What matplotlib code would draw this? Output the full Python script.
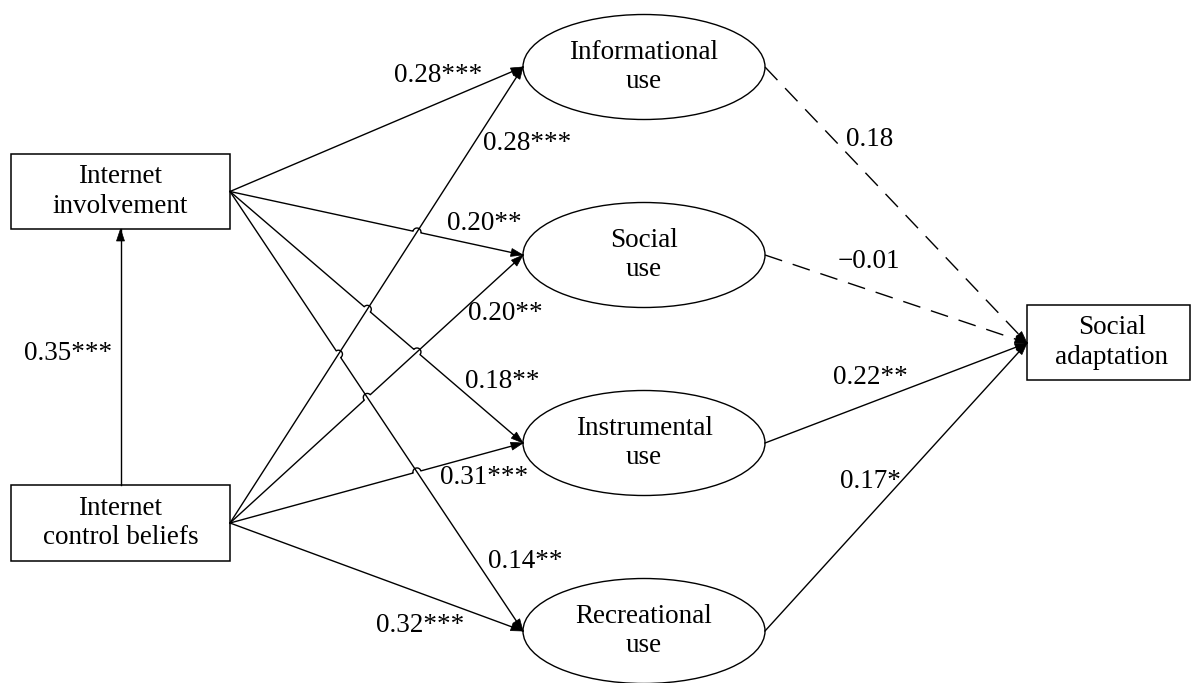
import numpy as np
import matplotlib.pyplot as plt
from matplotlib.patches import Ellipse, Rectangle, Polygon

plt.rcParams['font.family'] = ['Liberation Serif', 'DejaVu Serif']

# 데이터
sources = ['Internet\ninvolvement', 'Internet\ncontrol beliefs']
mediators = ['Informational\nuse', 'Social\nuse', 'Instrumental\nuse', 'Recreational\nuse']
outcome = 'Social\nadaptation'
inv_coefs = ['0.28***', '0.20**', '0.18**', '0.14**']
ctl_coefs = ['0.28***', '0.20**', '0.31***', '0.32***']
out_coefs = ['0.18', '\u22120.01', '0.22**', '0.17*']
out_sig = [False, False, True, True]   # 유의하지 않으면 점선
ctl_to_inv = '0.35***'

# 배치 (픽셀 좌표)
W, H = 1192, 683
box_l, box_r = 11, 230
src_boxes = [(154, 229), (485, 561)]
ell_cx, ell_w, ell_h = 644, 242, 105
ell_cy = [67, 255, 443, 631]
out_box = (1027, 305, 1190, 380)
inv_lab_pos = [(438, 75), (484, 223), (502, 382), (525, 561)]
ctl_lab_pos = [(527, 143), (505, 313), (484, 478), (420, 625)]
out_lab_pos = [(870, 140), (869, 261), (870, 377), (870, 482)]
fs = 19.5
lw = 1.0
lsp = 1.25

fig = plt.figure(figsize=(W / 100, H / 100), dpi=100)
ax = fig.add_axes([0, 0, 1, 1])
ax.set_xlim(0, W)
ax.set_ylim(H, 0)
ax.axis('off')


def arrow_head(tip, d, L=12, w=8):
    d = np.asarray(d, float)
    d = d / np.hypot(*d)
    n = np.array([-d[1], d[0]])
    tip = np.asarray(tip, float)
    base = tip - L * d
    pts = [tip, base + n * w / 2, base - n * w / 2]
    ax.add_patch(Polygon(pts, closed=True, fc='k', ec='k', lw=0.5, zorder=5))


def hop_line(p0, p1, hops, r=4.0):
    p0 = np.asarray(p0, float)
    p1 = np.asarray(p1, float)
    d = p1 - p0
    length = np.hypot(*d)
    d = d / length
    n = np.array([-d[1], d[0]])
    if n[1] > 0:
        n = -n
    ts = sorted(np.dot(np.asarray(h) - p0, d) for h in hops)
    xs, ys = [p0[0]], [p0[1]]
    th = np.linspace(0, np.pi, 15)
    for t in ts:
        c = p0 + t * d
        arc = c[None, :] + r * (-np.cos(th)[:, None] * d[None, :] + np.sin(th)[:, None] * n[None, :])
        xs += list(arc[:, 0])
        ys += list(arc[:, 1])
    xs.append(p1[0])
    ys.append(p1[1])
    return xs, ys


def intersect(a0, a1, b0, b1):
    a0, a1, b0, b1 = map(lambda v: np.asarray(v, float), (a0, a1, b0, b1))
    da, db = a1 - a0, b1 - b0
    den = da[0] * db[1] - da[1] * db[0]
    if abs(den) < 1e-9:
        return None
    t = ((b0[0] - a0[0]) * db[1] - (b0[1] - a0[1]) * db[0]) / den
    u = ((b0[0] - a0[0]) * da[1] - (b0[1] - a0[1]) * da[0]) / den
    if 0.01 < t < 0.99 and 0.01 < u < 0.99:
        return a0 + t * da
    return None


# 상자
for (top, bot), txt in zip(src_boxes, sources):
    ax.add_patch(Rectangle((box_l, top), box_r - box_l, bot - top, fill=False, ec='k', lw=1.1))
    ax.text((box_l + box_r) / 2, (top + bot) / 2, txt, ha='center', va='center',
            fontsize=fs, linespacing=lsp)

ox0, oy0, ox1, oy1 = out_box
ax.add_patch(Rectangle((ox0, oy0), ox1 - ox0, oy1 - oy0, fill=False, ec='k', lw=1.1))
ax.text(1112, (oy0 + oy1) / 2, outcome, ha='center', va='center', fontsize=fs, linespacing=lsp)

# 타원
ell_l = ell_cx - ell_w / 2
ell_r = ell_cx + ell_w / 2
for cy, txt in zip(ell_cy, mediators):
    ax.add_patch(Ellipse((ell_cx, cy), ell_w, ell_h, fill=False, ec='k', lw=lw))
    ax.text(ell_cx, cy, txt, ha='center', va='center', fontsize=fs, linespacing=lsp)

# 경로 선
lines = []
for s, (top, bot) in enumerate(src_boxes):
    start = (box_r, (top + bot) / 2)
    for k, cy in enumerate(ell_cy):
        lines.append((start, (ell_l, cy)))

hops = {i: [] for i in range(len(lines))}
for i in range(len(lines)):
    for j in range(i + 1, len(lines)):
        p = intersect(*lines[i], *lines[j])
        if p is None:
            continue
        si = abs((lines[i][1][1] - lines[i][0][1]) / (lines[i][1][0] - lines[i][0][0]))
        sj = abs((lines[j][1][1] - lines[j][0][1]) / (lines[j][1][0] - lines[j][0][0]))
        hops[i if si < sj else j].append(p)

for i, (p0, p1) in enumerate(lines):
    xs, ys = hop_line(p0, p1, hops[i])
    ax.plot(xs, ys, color='k', lw=lw)
    arrow_head(p1, np.subtract(p1, p0))

# 통제신념 -> 인터넷 몰입
vx = (box_l + box_r) / 2
ax.plot([vx, vx], [src_boxes[1][0], src_boxes[0][1]], color='k', lw=lw)
arrow_head((vx, src_boxes[0][1]), (0, -1))
ax.text(68, 353, ctl_to_inv, ha='center', va='center', fontsize=fs)

# 매개 -> 사회적응
tip = (ox0, (oy0 + oy1) / 2 + 0.5)
for cy, sig in zip(ell_cy, out_sig):
    ls = '-' if sig else (0, (13, 8))
    ax.plot([ell_r, tip[0]], [cy, tip[1]], color='k', lw=lw, linestyle=ls)
    arrow_head(tip, (tip[0] - ell_r, tip[1] - cy))

# 계수 라벨
for txt, (x, y) in zip(inv_coefs, inv_lab_pos):
    ax.text(x, y, txt, ha='center', va='center', fontsize=fs)
for txt, (x, y) in zip(ctl_coefs, ctl_lab_pos):
    ax.text(x, y, txt, ha='center', va='center', fontsize=fs)
for txt, (x, y) in zip(out_coefs, out_lab_pos):
    ax.text(x, y, txt, ha='center', va='center', fontsize=fs)

fig.savefig('out.png', dpi=100, facecolor='white')
